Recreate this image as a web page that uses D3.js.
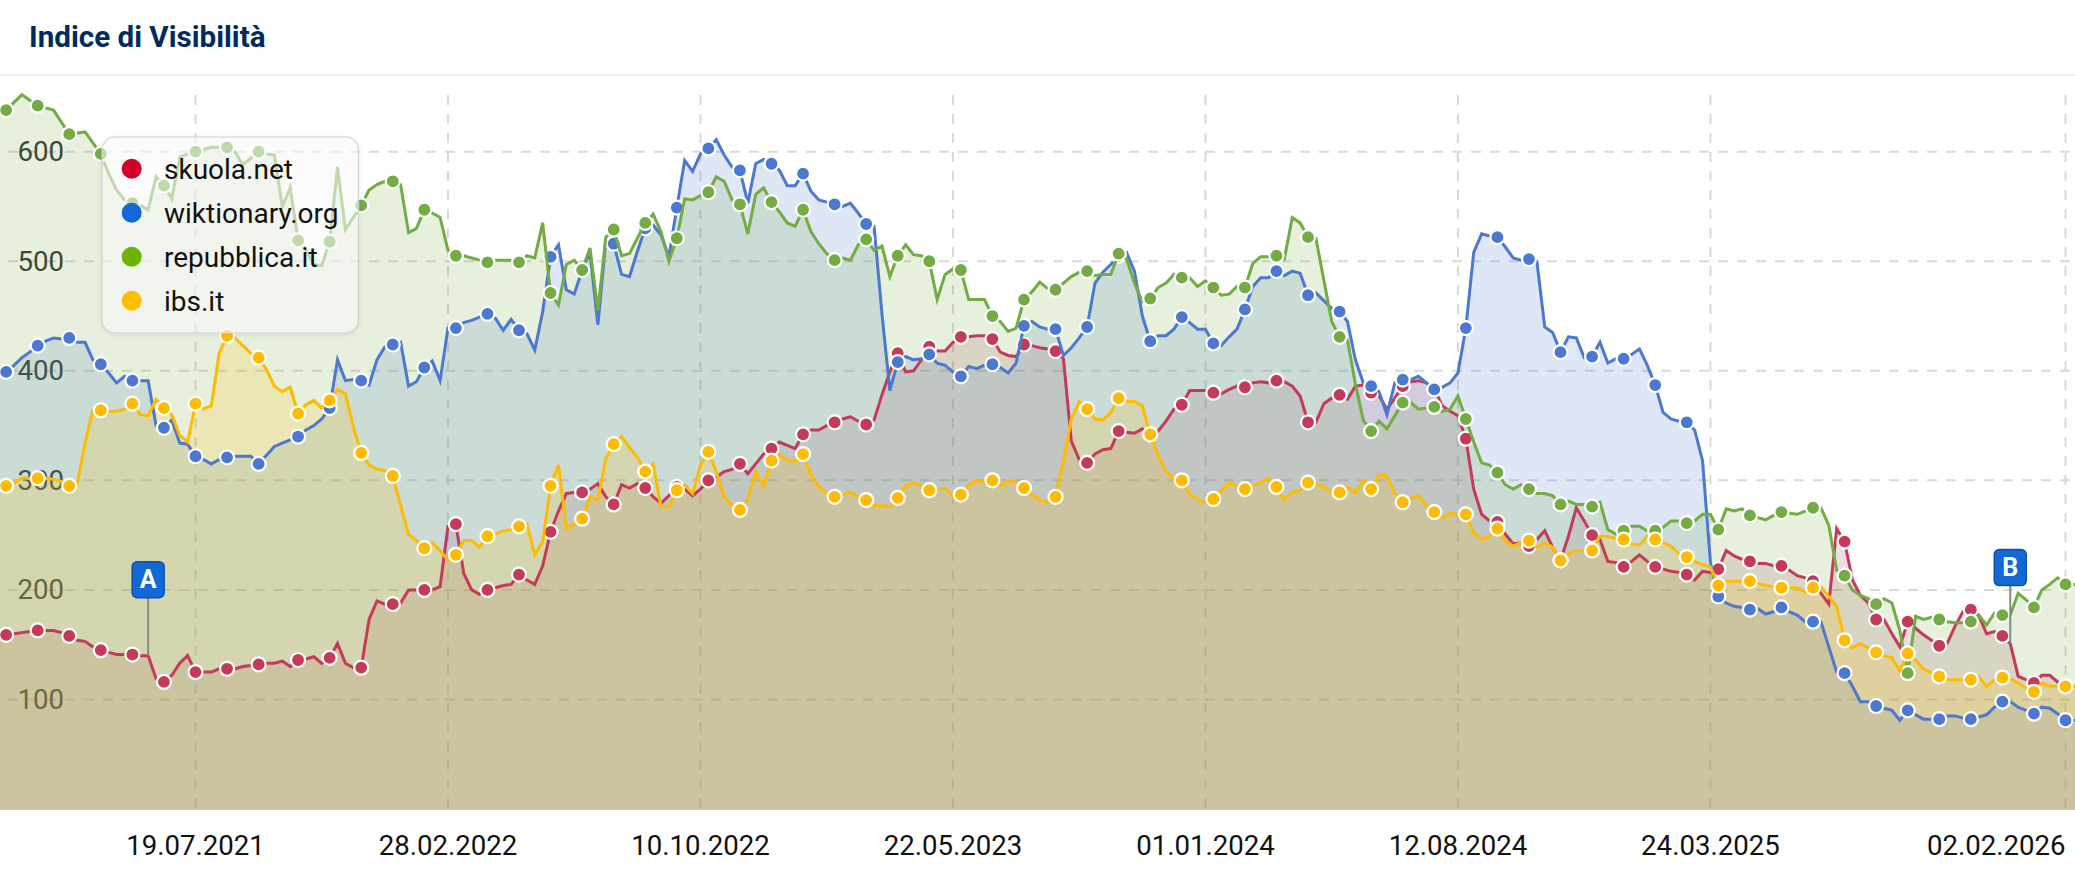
<!DOCTYPE html>
<html>
<head>
<meta charset="utf-8">
<title>Indice di Visibilità</title>
<script src="https://cdn.jsdelivr.net/npm/d3@7"></script>
<style>
	html, body { margin: 0; padding: 0; background: #fff; }
	svg { display: block; font-family: Roboto, sans-serif; }
</style>
</head>
<body>
<svg id="chart" width="2075" height="875"></svg>
<script>
	// weeks counted from the Monday 19.07.2021, one value per week, first value is week -25
	const firstWeek = -25;

	const skuola = [
		158,159,160,161,162,163,163,163,161,158,
		154,153,148,145,143,141,141,141,140,140,
		119,116,122,133,140,125,125,125,128,128,
		128,130,131,132,133,133,135,130,136,137,
		139,133,138,151,133,129,129,173,190,187,
		187,188,200,200,200,200,203,258,260,215,
		200,196,200,202,204,205,214,209,205,222,
		253,272,288,289,289,292,297,285,278,296,
		293,297,293,285,279,286,294,292,286,292,
		300,303,308,310,315,306,315,324,329,335,
		332,329,342,346,346,350,353,356,358,354,
		351,355,378,399,416,399,400,410,422,418,
		418,426,431,431,432,432,429,417,414,413,
		424,423,421,420,418,411,336,319,316,324,
		328,329,345,344,343,347,342,345,354,365,
		369,382,382,382,380,379,383,386,385,389,
		390,389,391,390,386,377,353,353,370,375,
		378,374,386,387,380,377,365,375,386,390,
		391,389,384,368,363,359,338,292,269,263,
		262,251,242,243,240,246,254,239,227,249,
		275,263,250,246,226,225,221,226,232,226,
		221,219,217,216,214,209,217,216,219,236,
		231,228,226,224,224,222,222,218,213,211,
		208,197,187,256,244,209,195,188,173,173,
		160,148,171,165,159,154,149,151,167,180,
		182,177,160,162,158,151,121,118,115,122,
		122,116,112,112,112
	];

	const wiktionary = [
		398,399,405,412,417,423,427,430,429,430,
		426,426,410,406,398,389,395,391,391,391,
		350,348,355,334,333,322,319,315,319,321,
		322,322,322,315,323,331,334,337,340,346,
		350,356,366,410,391,392,391,387,410,422,
		424,426,386,390,403,409,391,439,439,444,
		446,449,452,448,437,447,437,434,419,454,
		504,515,474,470,492,508,442,519,516,488,
		486,509,530,533,524,504,549,592,582,598,
		603,611,597,586,583,553,589,593,589,583,
		569,569,580,564,556,554,552,550,553,544,
		534,532,452,382,408,413,410,411,415,407,
		405,399,395,404,402,405,406,403,398,407,
		441,445,440,438,438,414,421,430,440,480,
		490,497,505,508,491,450,427,432,432,438,
		449,444,438,438,425,423,431,438,456,477,
		485,485,491,487,491,489,469,471,464,457,
		454,445,410,389,386,381,360,389,392,392,
		395,389,383,385,389,398,439,508,525,523,
		522,513,503,501,502,500,440,435,417,431,
		430,412,413,426,407,411,411,415,420,405,
		387,362,356,354,353,346,318,225,194,188,
		185,184,182,183,178,180,184,180,177,171,
		171,171,148,125,124,112,98,98,94,92,
		90,81,90,86,82,82,82,85,85,83,
		82,84,86,93,98,98,93,90,87,93,
		92,87,81,81,81
	];

	const repubblica = [
		635,638,645,652,647,642,640,638,627,616,
		617,618,608,598,580,565,556,553,551,547,
		577,569,557,595,598,600,602,604,604,604,
		600,588,594,600,598,597,550,567,519,510,
		497,496,518,586,529,540,551,565,570,573,
		573,570,526,530,547,544,540,510,505,505,
		503,501,499,501,501,501,499,505,503,535,
		471,460,497,501,492,512,455,522,529,505,
		507,521,535,543,527,500,521,557,556,560,
		563,577,573,556,552,525,561,567,554,545,
		535,532,547,527,516,507,501,503,501,515,
		520,510,514,486,505,515,506,505,500,465,
		488,493,492,465,465,465,450,445,436,439,
		465,472,481,475,474,480,486,490,491,487,
		488,488,507,502,480,463,466,476,480,488,
		485,485,477,482,476,469,470,477,476,498,
		504,504,505,502,540,535,522,521,483,445,
		431,428,388,355,345,354,347,359,371,371,
		365,366,367,363,365,377,356,335,316,314,
		307,296,292,296,292,288,288,286,278,281,
		278,278,276,280,255,251,254,258,258,254,
		254,257,263,263,261,263,269,269,255,274,
		272,274,268,266,264,268,271,270,269,272,
		275,275,259,218,213,200,195,192,187,192,
		188,163,124,176,173,175,173,171,170,170,
		171,177,168,179,177,177,197,191,184,200,
		205,211,205,205,205
	];

	const ibs = [
		294,295,298,302,302,302,302,301,299,295,
		297,334,364,364,363,363,365,370,360,359,
		374,366,360,341,335,370,365,368,416,432,
		430,423,416,412,401,386,381,385,361,369,
		373,366,373,383,379,349,325,314,310,309,
		304,277,251,245,238,243,236,227,232,245,
		245,239,249,251,254,255,258,260,232,244,
		295,314,256,260,265,285,282,320,333,340,
		330,321,308,315,276,276,291,296,288,314,
		326,308,285,277,273,283,308,295,318,323,
		319,317,324,305,294,288,285,287,289,285,
		282,277,277,276,284,295,298,295,291,292,
		293,286,287,296,300,298,300,295,300,298,
		293,287,282,280,285,318,356,372,365,356,
		355,362,375,372,372,368,342,323,308,302,
		300,287,283,280,283,291,298,295,292,295,
		298,302,294,282,289,291,298,297,294,289,
		289,294,289,300,292,305,304,288,280,283,
		286,277,271,266,270,269,269,252,246,249,
		256,245,240,243,245,239,243,239,227,233,
		236,236,236,249,249,247,246,242,241,249,
		246,243,240,233,230,226,223,221,204,208,
		208,208,208,206,204,203,202,202,202,198,
		202,203,194,185,154,147,151,147,143,140,
		138,126,142,136,128,124,121,118,118,118,
		118,121,112,118,120,119,115,110,107,115,
		112,112,112,112,112
	];

	const seriesNames = [ 'skuola.net', 'wiktionary.org', 'repubblica.it', 'ibs.it' ];
	const seriesValues = [ skuola, wiktionary, repubblica, ibs ];
	const lineColors = [ '#c43a58', '#4b78d0', '#72ac42', '#ffbb00' ];
	const areaColors = [ '#a04a58', '#4b78d0', '#72ac42', '#ffbb00' ];
	const legendColors = [ '#d00027', '#1268d6', '#6cb400', '#ffbe00' ];

	const markerWeeks = [ -24, -20, -16, -12, -8, -4, 0, 4, 8,
		13, 17, 21, 25, 29, 33, 37, 41, 45, 49, 53, 57, 61, 65, 69, 73, 77, 81, 85, 89, 93, 97,
		101, 105, 109, 113, 117, 121, 125, 129, 133, 137, 141, 145, 149, 153, 157, 161, 165, 169,
		173, 177, 181, 185, 189, 193, 197, 201, 205, 209, 213, 217, 221, 225, 229, 233, 237 ];

	const yTicks = [ 100, 200, 300, 400, 500, 600 ];
	const xTickWeeks = [ 0, 32, 64, 96, 128, 160, 192, 237 ];
	const xTickLabels = [ '19.07.2021', '28.02.2022', '10.10.2022', '22.05.2023', '01.01.2024', '12.08.2024', '24.03.2025', '02.02.2026' ];

	const flagWeeks = [ -6, 230 ];
	const flagLabels = [ 'A', 'B' ];

	const startDate = new Date( Date.UTC( 2021, 6, 19 ) );
	const dateOf = week => d3.utcDay.offset( startDate, week * 7 );

	const svg = d3.select( '#chart' );

	// 1659 days between the first and the last tick
	const x = d3.scaleUtc()
		.domain( [ startDate, dateOf( 237 ) ] )
		.range( [ 195.5, 2065.5 ] );
	const y = d3.scaleLinear()
		.domain( [ 0, 600 ] )
		.range( [ 809, 151.7 ] );

	// header
	svg.append( 'text' )
		.attr( 'x', 29 )
		.attr( 'y', 47 )
		.attr( 'font-size', 29.6 )
		.attr( 'font-weight', 700 )
		.attr( 'fill', '#002b5c' )
		.text( 'Indice di Visibilità' );
	svg.append( 'line' )
		.attr( 'x1', 0 ).attr( 'x2', 2075 )
		.attr( 'y1', 75 ).attr( 'y2', 75 )
		.attr( 'stroke', '#ececec' )
		.attr( 'stroke-width', 1.5 );

	// grid and labels go below the series
	let grid = svg.append( 'g' ).attr( 'id', 'grid' );
	grid.selectAll( 'line.h' ).data( yTicks )
		.enter().append( 'line' )
		.attr( 'class', 'h' )
		.attr( 'x1', 8 ).attr( 'x2', 2075 )
		.attr( 'y1', d => y( d ) ).attr( 'y2', d => y( d ) );
	grid.selectAll( 'line.v' ).data( xTickWeeks )
		.enter().append( 'line' )
		.attr( 'class', 'v' )
		.attr( 'x1', d => x( dateOf( d ) ) ).attr( 'x2', d => x( dateOf( d ) ) )
		.attr( 'y1', 95 ).attr( 'y2', 809 );
	grid.selectAll( 'line' )
		.attr( 'stroke', '#d9d9d9' )
		.attr( 'stroke-width', 2 )
		.attr( 'stroke-dasharray', '10,9' );

	grid.selectAll( 'text' ).data( yTicks )
		.enter().append( 'text' )
		.attr( 'x', 64 )
		.attr( 'y', d => y( d ) + 9.5 )
		.attr( 'text-anchor', 'end' )
		.attr( 'font-size', 27.6 )
		.attr( 'fill', '#333' )
		.text( d => d );

	// x axis
	svg.append( 'line' )
		.attr( 'x1', 0 ).attr( 'x2', 2075 )
		.attr( 'y1', 809.5 ).attr( 'y2', 809.5 )
		.attr( 'stroke', '#c9c5b4' )
		.attr( 'stroke-width', 1 );
	svg.append( 'g' ).selectAll( 'text' ).data( xTickWeeks )
		.enter().append( 'text' )
		.attr( 'x', d => x( dateOf( d ) ) )
		.attr( 'y', 855 )
		.attr( 'text-anchor', ( d, i ) => i === xTickWeeks.length - 1 ? 'end' : 'middle' )
		.attr( 'font-size', 27.6 )
		.attr( 'fill', '#111' )
		.text( ( d, i ) => xTickLabels[ i ] );

	// series: all areas first, then lines and markers stay crisp above them
	const line = d3.line().x( d => x( dateOf( d.week ) ) ).y( d => y( d.value ) );
	const area = d3.area().x( d => x( dateOf( d.week ) ) ).y0( y( 0 ) ).y1( d => y( d.value ) );
	const pointsOf = values => values.map( ( v, i ) => ( { week: firstWeek + i, value: v } ) );

	let areaGroup = svg.append( 'g' ).attr( 'id', 'areas' ),
		lineGroup = svg.append( 'g' ).attr( 'id', 'lines' );

	seriesValues.forEach( ( values, s ) => {
		let points = pointsOf( values ),
			group = lineGroup.append( 'g' ).attr( 'id', 'series_' + s );

		areaGroup.append( 'path' )
			.attr( 'd', area( points ) )
			.attr( 'fill', areaColors[ s ] )
			.attr( 'fill-opacity', 0.18 );
		group.append( 'path' )
			.attr( 'd', line( points ) )
			.attr( 'fill', 'none' )
			.attr( 'stroke', lineColors[ s ] )
			.attr( 'stroke-width', 3 );
		group.selectAll( 'circle' ).data( points.filter( p => markerWeeks.includes( p.week ) ) )
			.enter().append( 'circle' )
			.attr( 'cx', d => x( dateOf( d.week ) ) )
			.attr( 'cy', d => y( d.value ) )
			.attr( 'r', 7 )
			.attr( 'fill', lineColors[ s ] )
			.attr( 'stroke', '#fff' )
			.attr( 'stroke-width', 2.2 );
	} );

	// flags sit on the skuola.net line
	flagWeeks.forEach( ( week, i ) => {
		let fx = x( dateOf( week ) ),
			fy = y( skuola[ week - firstWeek ] ),
			flag = svg.append( 'g' );

		flag.append( 'line' )
			.attr( 'x1', fx ).attr( 'x2', fx )
			.attr( 'y1', fy - 58 ).attr( 'y2', fy )
			.attr( 'stroke', '#888' )
			.attr( 'stroke-width', 2 );
		flag.append( 'rect' )
			.attr( 'x', fx - 16 ).attr( 'y', fy - 94 )
			.attr( 'width', 32 ).attr( 'height', 36 )
			.attr( 'rx', 5 )
			.attr( 'fill', '#1268d6' )
			.attr( 'stroke', '#0c52ab' )
			.attr( 'stroke-width', 1.5 );
		flag.append( 'text' )
			.attr( 'x', fx ).attr( 'y', fy - 68 )
			.attr( 'text-anchor', 'middle' )
			.attr( 'font-size', 25 )
			.attr( 'font-weight', 700 )
			.attr( 'fill', '#fff' )
			.text( flagLabels[ i ] );
	} );

	// legend
	let defs = svg.append( 'defs' );
	let shadow = defs.append( 'filter' ).attr( 'id', 'legendShadow' )
		.attr( 'x', '-5%' ).attr( 'y', '-5%' ).attr( 'width', '110%' ).attr( 'height', '110%' );
	shadow.append( 'feDropShadow' )
		.attr( 'dx', 0 ).attr( 'dy', 1 ).attr( 'stdDeviation', 2 )
		.attr( 'flood-color', '#000' ).attr( 'flood-opacity', 0.12 );

	let legend = svg.append( 'g' ).attr( 'id', 'legend' );
	legend.append( 'rect' )
		.attr( 'x', 102 ).attr( 'y', 137 )
		.attr( 'width', 256.5 ).attr( 'height', 196 )
		.attr( 'rx', 13 )
		.attr( 'fill', '#fff' )
		.attr( 'fill-opacity', 0.55 )
		.attr( 'stroke', '#cfcfcf' )
		.attr( 'stroke-width', 1.2 )
		.attr( 'filter', 'url(#legendShadow)' );
	legend.selectAll( 'circle' ).data( seriesNames )
		.enter().append( 'circle' )
		.attr( 'cx', 131.7 )
		.attr( 'cy', ( d, i ) => 168.7 + i * 44 )
		.attr( 'r', 10 )
		.attr( 'fill', ( d, i ) => legendColors[ i ] );
	legend.selectAll( 'text' ).data( seriesNames )
		.enter().append( 'text' )
		.attr( 'x', 164 )
		.attr( 'y', ( d, i ) => 179 + i * 44 )
		.attr( 'font-size', 28 )
		.attr( 'fill', '#111' )
		.text( d => d );
</script>
</body>
</html>
